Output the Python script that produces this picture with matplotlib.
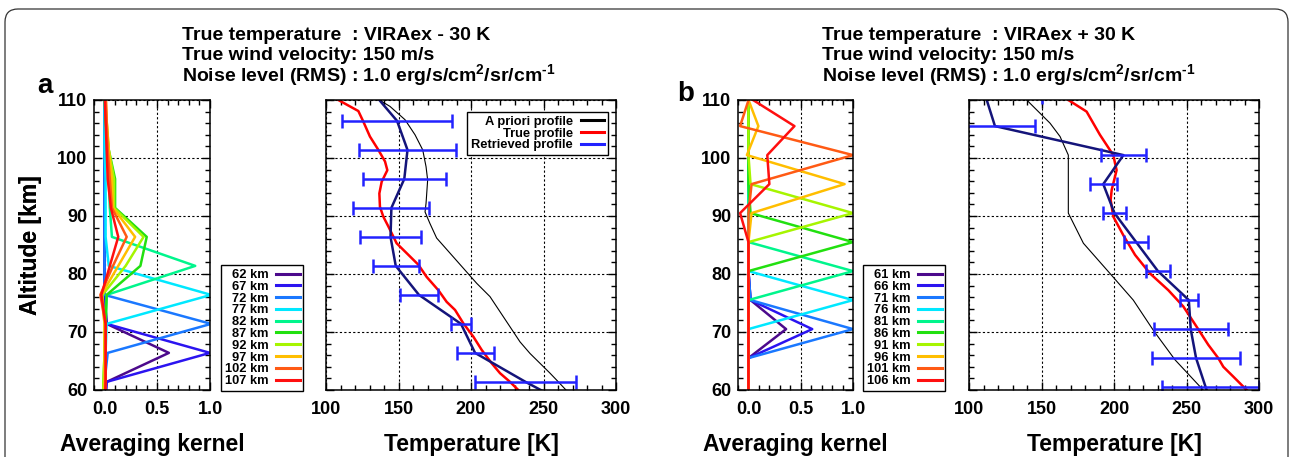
import numpy as np
import matplotlib
matplotlib.use("Agg")
import matplotlib.pyplot as plt
from matplotlib.lines import Line2D
from matplotlib.patches import FancyBboxPatch
from matplotlib.ticker import MultipleLocator, FormatStrFormatter

# ---- data ----
# retrieval levels [km]
levels_a = [56.4, 61.4, 66.4, 71.4, 76.4, 81.4, 86.4, 91.4, 96.4, 101.4, 106.4, 111.4]
levels_b = [55.5, 60.5, 65.5, 70.5, 75.5, 80.5, 85.5, 90.5, 95.5, 100.5, 105.5, 110.5]

kernel_labels_a = ["62 km", "67 km", "72 km", "77 km", "82 km",
                   "87 km", "92 km", "97 km", "102 km", "107 km"]
kernel_labels_b = ["61 km", "66 km", "71 km", "76 km", "81 km",
                   "86 km", "91 km", "96 km", "101 km", "106 km"]
kernel_colors = ["#4c0a8c", "#2b14f0", "#1a78ff", "#00e8ff", "#00f58c",
                 "#22e010", "#a6f500", "#ffbe00", "#ff5a14", "#ff0f0f"]

# averaging kernels, one row per retrieval level, values at levels_a / levels_b
kernels_a = [
    [0.0, 0.02, 0.61, 0.02, 0.0, 0.0, 0.0, 0.0, 0.0, 0.0, 0.0, 0.0],
    [0.0, 0.02, 1.0, 0.02, 0.0, 0.0, 0.0, 0.0, 0.0, 0.0, 0.0, 0.0],
    [0.0, 0.0, 0.03, 1.01, 0.0, 0.0, 0.0, 0.0, 0.0, 0.0, 0.0, 0.0],
    [0.0, 0.0, 0.01, 0.02, 1.01, 0.04, 0.01, 0.01, 0.01, 0.0, 0.0, 0.0],
    [0.0, 0.0, 0.0, 0.01, 0.02, 0.86, 0.07, 0.05, 0.04, 0.03, 0.01, 0.0],
    [-0.02, -0.01, 0.0, 0.01, 0.02, 0.34, 0.40, 0.10, 0.10, 0.04, 0.01, 0.0],
    [-0.02, -0.01, 0.0, 0.0, -0.02, 0.20, 0.37, 0.09, 0.09, 0.04, 0.02, 0.0],
    [-0.01, 0.0, 0.0, 0.0, -0.03, 0.13, 0.29, 0.08, 0.07, 0.04, 0.02, 0.01],
    [0.0, 0.01, 0.01, 0.01, -0.04, 0.08, 0.21, 0.07, 0.05, 0.03, 0.02, 0.01],
    [0.0, 0.01, 0.01, 0.01, -0.03, 0.05, 0.13, 0.06, 0.03, 0.02, 0.01, 0.0],
]
kernels_b = [
    [0.0, 0.0, 0.0, 0.36, 0.02, 0.0, 0.0, 0.0, 0.0, 0.0, 0.0, 0.0],
    [0.0, 0.0, 0.0, 0.61, 0.02, 0.0, 0.0, 0.0, 0.0, 0.0, 0.0, 0.0],
    [0.0, 0.0, 0.0, 1.0, 0.02, 0.0, 0.0, 0.0, 0.0, 0.0, 0.0, 0.0],
    [0.0, 0.0, 0.0, 0.0, 1.0, 0.0, 0.0, 0.0, 0.0, 0.0, 0.0, 0.0],
    [0.0, 0.0, 0.0, 0.0, 0.0, 1.0, 0.0, 0.0, 0.0, 0.0, 0.0, 0.0],
    [0.0, 0.0, 0.0, 0.0, 0.0, 0.0, 1.0, 0.02, 0.0, 0.0, 0.0, 0.0],
    [0.0, 0.0, 0.0, 0.0, 0.0, 0.0, 0.0, 1.0, 0.02, 0.0, 0.0, 0.0],
    [0.0, 0.0, 0.0, 0.0, 0.0, 0.0, 0.0, 0.03, 0.92, -0.015, 0.095, -0.01],
    [0.0, 0.0, 0.0, 0.0, 0.0, 0.0, 0.0, 0.0, 0.03, 1.0, -0.08, 0.01],
    [0.0, 0.0, 0.0, 0.0, 0.0, 0.0, 0.0, -0.08, 0.20, 0.18, 0.44, 0.0],
]

# a priori (VIRA) profiles [km], [K]
apriori_alt_a = [60, 61.7, 62.9, 64.6, 66.3, 68.3, 70.9, 73.5, 76.1, 78.4, 81, 83.6,
                 86.2, 88.7, 90.7, 92.2, 96.2, 98.5, 101.4, 104, 106.6, 108.9, 110]
apriori_t_a = [265.5, 259.1, 254.5, 247.6, 240.7, 233.8, 226.9, 220, 213.1, 203.9, 194.7, 185.5,
               176.3, 171.7, 168.3, 169, 170.1, 169, 166.7, 161.4, 154.5, 144.1, 136.8]
apriori_alt_b = [60, 65.2, 70.3, 75.5, 80.1, 85.3, 90.5, 100.5, 103.7, 106, 110]
apriori_t_b = [261.5, 242.1, 227.1, 213.3, 197.2, 178.9, 168.5, 168.5, 162.8, 155.9, 139.8]

# true profiles (VIRAex -30 K / +30 K)
true_alt_a = [60, 61.4, 62.9, 64.6, 66.9, 69.2, 71.5, 73.8, 75.2, 77.2, 79.5, 81.6, 83.6,
              85.3, 88.2, 89.9, 91.6, 93.9, 95.9, 97.9, 99.4, 101.4, 103.7, 106.3, 108.1, 110]
true_t_a = [232.6, 226.9, 220, 214.3, 207.4, 201.6, 194.7, 189, 183.2, 177.5, 169.4, 163.7, 155.6,
            148.7, 143, 139.5, 137.2, 136.8, 138.4, 142.3, 140.7, 136.1, 130.3, 125.7, 122.3, 108.5]
true_alt_b = [60, 62.3, 64.0, 65.5, 67.8, 70.9, 74.4, 77.2, 80.1, 83.3, 86.7, 89.9, 92.8,
              94.5, 97.9, 100.5, 104, 108, 110]
true_t_b = [291.5, 282.3, 275.4, 271.9, 265, 257, 247.8, 237.5, 224.8, 214.5, 206.4, 199.5, 197.7,
            198.4, 201.8, 199.5, 190.3, 181.1, 168.5]

# retrieved profiles at the retrieval levels, with error bars (low / high)
retrieved_a = [275, 237.6, 202.8, 193.1, 164.1, 148.1, 144.5, 145.1, 154.0, 156.2, 149.0, 132]
err_lo_a = [40, 34.8, 12.75, 6.7, 13.35, 16.0, 20.8, 26.2, 28.5, 33.5, 37.7, 40]
err_hi_a = [40, 34.8, 12.75, 6.7, 13.35, 16.0, 20.8, 26.2, 28.5, 33.5, 37.7, 40]
retrieved_b = [270, 263.2, 256.6, 252.9, 251.6, 230.3, 215.3, 200.3, 192.6, 206.5, 117.9, 111.6]
err_lo_b = [35, 30.3, 30.5, 25.65, 6.35, 8.25, 8.4, 8.05, 9.2, 15.75, 27.6, 38.5]
err_hi_b = [35, 37.0, 30.5, 25.65, 6.35, 8.25, 8.4, 8.05, 9.2, 15.75, 27.6, 38.5]

noise_line = r"Noise level (RMS) : 1.0 erg/s/cm$^{\text{2}}$/sr/cm$^{\text{-1}}$"
titles_a = ["True temperature  : VIRAex - 30 K", "True wind velocity: 150 m/s", noise_line]
titles_b = ["True temperature  : VIRAex + 30 K", "True wind velocity: 150 m/s", noise_line]

W, H = 1290, 457

plt.rcParams["font.family"] = ["Liberation Sans", "DejaVu Sans"]
plt.rcParams["font.weight"] = "bold"
plt.rcParams["axes.labelweight"] = "bold"
plt.rcParams["mathtext.fontset"] = "custom"
plt.rcParams["mathtext.bf"] = "Liberation Sans:bold"
plt.rcParams["mathtext.rm"] = "Liberation Sans:bold"
plt.rcParams["mathtext.it"] = "Liberation Sans:bold"


def px_axes(fig, x0, x1, y0, y1):
    return fig.add_axes([x0 / W, 1 - y1 / H, (x1 - x0) / W, (y1 - y0) / H])


def style_axes(ax, xmaj, xmin):
    ax.set_ylim(60, 110)
    ax.xaxis.set_major_locator(MultipleLocator(xmaj))
    ax.xaxis.set_minor_locator(MultipleLocator(xmin))
    ax.yaxis.set_major_locator(MultipleLocator(10))
    ax.yaxis.set_minor_locator(MultipleLocator(2))
    ax.tick_params(which="both", direction="in", top=True, right=True, width=1.0)
    ax.tick_params(which="major", length=6, labelsize=13)
    ax.tick_params(which="minor", length=3.5)
    ax.tick_params(axis="x", pad=8)
    ax.tick_params(axis="y", pad=5)
    ax.grid(True, which="major", color="black", linestyle=(0, (2, 2)), linewidth=0.8)
    for s in ax.spines.values():
        s.set_linewidth(1.1)


LEG_KW = dict(markerfirst=False, fontsize=9.3, fancybox=False, edgecolor="black",
              framealpha=1, handlelength=1.8, handletextpad=0.6,
              labelspacing=-0.02, borderpad=0.3, borderaxespad=0)


def kernel_panel(fig, x0, x1, levels, kernels, labels, leg_x0):
    ax = px_axes(fig, x0, x1, 100, 390)
    for k, c, lab in zip(kernels, kernel_colors, labels):
        ax.plot(k, levels, color=c, lw=1.8, label=lab)
    ax.set_xlim(-0.1, 1.0)
    style_axes(ax, 0.5, 0.1)
    ax.xaxis.set_major_formatter(FormatStrFormatter("%.1f"))
    ax.set_xlabel("Averaging kernel", fontsize=16.5)
    ax.xaxis.set_label_coords(0.5, -0.15)
    ax.set_ylabel("Altitude [km]", fontsize=16.5)
    ax.yaxis.set_label_coords((42 - x0) / (x1 - x0), 0.5)
    leg = ax.legend(loc="lower left", bbox_to_anchor=(leg_x0 / W, 1 - 391 / H),
                    bbox_transform=fig.transFigure, **LEG_KW)
    leg.get_frame().set_linewidth(1.0)
    for h in leg.legend_handles:
        h.set_linewidth(2.2)
    return ax


def temp_panel(fig, x0, x1, apr_alt, apr_t, tr_alt, tr_t, levels, ret, lo, hi, legend):
    ax = px_axes(fig, x0, x1, 100, 390)
    ax.plot(apr_t, apr_alt, color="black", lw=0.8)
    ax.plot(tr_t, tr_alt, color="#ff0000", lw=1.8)
    ax.plot(ret, levels, color="#14147a", lw=1.8)
    ax.errorbar(ret, levels, xerr=[lo, hi], fmt="none", ecolor="#2222ff",
                elinewidth=1.8, capsize=4.8, capthick=1.8)
    ax.set_xlim(100, 300)
    style_axes(ax, 50, 10)
    ax.tick_params(axis="y", labelleft=False)
    ax.set_xlabel("Temperature [K]", fontsize=16.5)
    ax.xaxis.set_label_coords(0.5, -0.15)
    if legend:
        handles = [Line2D([], [], color="black", lw=2.2),
                   Line2D([], [], color="#ff0000", lw=2.2),
                   Line2D([], [], color="#2222ff", lw=2.2)]
        leg = ax.legend(handles, ["A priori profile", "True profile", "Retrieved profile"],
                        loc="upper right", bbox_to_anchor=(0.972, 0.959), **LEG_KW)
        leg.get_frame().set_linewidth(1.0)
    return ax


def main():
    fig = plt.figure(figsize=(W / 100, H / 100), dpi=100)

    frame = FancyBboxPatch((0.05, -0.3), 12.83, 4.78,
                           boxstyle="round,pad=0,rounding_size=0.13",
                           transform=fig.dpi_scale_trans, facecolor="none",
                           edgecolor="#333333", linewidth=0.9, clip_on=False)
    fig.add_artist(frame)

    kernel_panel(fig, 94, 210, levels_a, kernels_a, kernel_labels_a, 221)
    temp_panel(fig, 326, 616, apriori_alt_a, apriori_t_a, true_alt_a, true_t_a,
               levels_a, retrieved_a, err_lo_a, err_hi_a, True)
    kernel_panel(fig, 738, 853, levels_b, kernels_b, kernel_labels_b, 863)
    temp_panel(fig, 969, 1259, apriori_alt_b, apriori_t_b, true_alt_b, true_t_b,
               levels_b, retrieved_b, err_lo_b, err_hi_b, False)

    for x, lines in ((182, titles_a), (822, titles_b)):
        for i, line in enumerate(lines):
            fig.text(x / W, 1 - (35 + 20 * i) / H, line, fontsize=14,
                     fontweight="bold", ha="left", va="center")

    fig.text(37 / W, 1 - 93 / H, "a", fontsize=20, fontweight="bold", va="baseline")
    fig.text(677 / W, 1 - 101 / H, "b", fontsize=20, fontweight="bold", va="baseline")

    fig.savefig("out.png", dpi=100, facecolor="white")


if __name__ == "__main__":
    main()
